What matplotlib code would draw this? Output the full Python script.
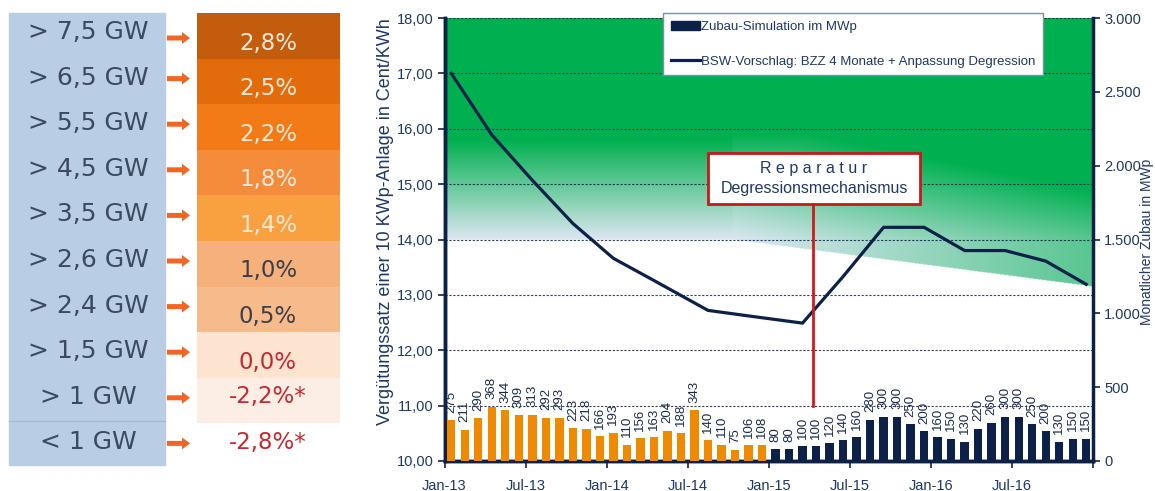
import matplotlib
matplotlib.use('Agg')
import matplotlib.pyplot as plt
import numpy as np
from matplotlib.patches import Rectangle, Patch
from matplotlib.lines import Line2D
from matplotlib.colors import to_rgb

# ---- left table ----
thresholds = ["> 7,5 GW", "> 6,5 GW", "> 5,5 GW", "> 4,5 GW", "> 3,5 GW",
              "> 2,6 GW", "> 2,4 GW", "> 1,5 GW", "> 1 GW", "< 1 GW"]
degression = ["2,8%", "2,5%", "2,2%", "1,8%", "1,4%",
              "1,0%", "0,5%", "0,0%", "-2,2%*", "-2,8%*"]

# ---- chart data ----
tick_labels = ["Jan-13", "Jul-13", "Jan-14", "Jul-14",
               "Jan-15", "Jul-15", "Jan-16", "Jul-16"]
zubau_ist = [275, 211, 290, 368, 344, 309, 313, 292, 293, 223, 218, 166,
             193, 110, 156, 163, 204, 188, 343, 140, 110, 75, 106, 108]
zubau_sim = [80, 80, 100, 100, 120, 140, 160, 280, 300, 300, 250, 200,
             160, 150, 130, 220, 260, 300, 300, 250, 200, 130, 150, 150]
line_month = [0, 3, 6, 9, 12, 15, 19, 22, 26, 29, 32, 35, 38, 41, 44, 47]
line_value = [17.00, 15.89, 15.07, 14.29, 13.66, 13.26, 12.72, 12.62,
              12.49, 13.33, 14.22, 14.22, 13.80, 13.80, 13.61, 13.19]

# styles
navy = "#0d2148"
txt_navy = "#1f3864"
orange_bar = "#ef8a00"
cell_colors = ["#c45c0e", "#e26c0b", "#f27b17", "#f48c3c", "#f9a140",
               "#f5b07b", "#f7ba8b", "#fce4d1", "#fdeee5", "#ffffff"]
pct_colors = ["#fde9d6"] * 5 + ["#3a3f4a"] * 2 + ["#c42a2f"] * 3

W, H = 1155, 491
fig = plt.figure(figsize=(W / 100, H / 100), dpi=100)

# ---------- table (pixel coordinates) ----------
t = fig.add_axes([0, 0, 1, 1])
t.set_xlim(0, W)
t.set_ylim(H, 0)
t.axis('off')
t.add_patch(Rectangle((9, 13), 156, 452, color="#b9cde5", zorder=0))
t.plot([9, 165], [421, 421], color="#a5b9d3", lw=1)
row_h = 45.6
for i, (lab, pct) in enumerate(zip(thresholds, degression)):
    yc = 32 + row_h * i
    t.add_patch(Rectangle((197, 13 + row_h * i), 143, row_h + 0.5,
                          color=cell_colors[i], lw=0, zorder=0))
    t.text(88, yc, lab, ha='center', va='center', fontsize=18,
           color="#3b4a5e", family='DejaVu Sans')
    ty = yc + (11 if i < 8 else 0)
    t.text(268, ty, pct, ha='center', va='center', fontsize=16.5,
           color=pct_colors[i], family='DejaVu Sans')
    t.arrow(167, yc + (6 if i == 0 else 1), 23, 0, width=5, head_width=12,
            head_length=8, length_includes_head=True, color="#f26522", lw=0)

# ---------- main chart ----------
x0, x1, ytop, ybot = 444.5, 1093, 18, 461
ax = fig.add_axes([x0 / W, 1 - ybot / H, (x1 - x0) / W, (ybot - ytop) / H])
n = len(zubau_ist) + len(zubau_sim)

# green background gradient with wedge on the right
green = np.array(to_rgb("#00b050"))
light = np.array(to_rgb("#dde7f2"))
xs = np.linspace(0, n, 600)
ys = np.linspace(13, 18, 500)
X, Y = np.meshgrid(xs, ys)
x_w = 21.3
s = np.clip((X - x_w) / (n - x_w), 0, 1)
edge = np.where(X > x_w, 14 - 0.85 * s, 14.0)
tl = np.clip((Y - 14) / 1.8, 0, 1)
tr = np.clip(0.6 * s + np.clip(Y - 14, 0, None) / 2.2, 0, 1)
tt = np.where(X > x_w, np.maximum(tr, np.clip((Y - 14.2) / 1.7, 0, 1)), tl)
img = np.zeros(X.shape + (4,))
img[..., :3] = light * (1 - tt[..., None]) + green * tt[..., None]
img[..., 3] = (Y >= edge).astype(float)
ax.imshow(img, extent=[0, n, 13, 18], origin='lower', aspect='auto',
          interpolation='bilinear', zorder=0)

ax.set_xlim(0, n)
ax.set_ylim(10, 18)
ax.set_yticks(np.arange(10, 18.5, 1))
ax.set_yticklabels([f"{v:.2f}".replace('.', ',') for v in np.arange(10, 18.5, 1)])
ax.yaxis.grid(True, color=navy, linestyle=(0, (2, 1.5)), lw=0.8, alpha=0.85)
ax.set_axisbelow(False)
ax.set_xticks(list(range(0, n + 1, 6)))
ax.set_xticklabels(tick_labels + [""])

ax.plot([m + 0.5 for m in line_month], line_value, color=navy, lw=2.3,
        zorder=5, solid_joinstyle='miter')

# annotation
ax.plot([27.3, 27.3], [14.65, 11.0], color="#d21a1a", lw=2, zorder=6)
ax.add_patch(Rectangle((19.5, 14.65), 15.7, 0.91, facecolor='white',
                       edgecolor="#c8181c", lw=2, zorder=7))
ax.text(27.35, 15.29, "R e p a r a t u r", ha='center', va='center',
        fontsize=11.5, color=txt_navy, family='Liberation Sans', zorder=8)
ax.text(27.35, 14.93, "Degressionsmechanismus", ha='center', va='center',
        fontsize=11.5, color=txt_navy, family='Liberation Sans', zorder=8)

ax2 = ax.twinx()
ax2.set_ylim(0, 3000)
ax2.set_yticks(range(0, 3001, 500))
ax2.set_yticklabels([f"{v:,}".replace(',', '.') for v in range(0, 3001, 500)])
pos = np.arange(n) + 0.5
vals = zubau_ist + zubau_sim
cols = [orange_bar] * len(zubau_ist) + [navy] * len(zubau_sim)
ax2.bar(pos, vals, width=0.62, color=cols, zorder=3)
for p, v in zip(pos, vals):
    ax2.text(p, v + 50, str(v), rotation=90, ha='center', va='bottom',
             fontsize=9.5, color="#1b2b4b", family='Liberation Sans')

for a in (ax, ax2):
    a.spines['top'].set_visible(False)
    for sp in ('left', 'bottom', 'right'):
        a.spines[sp].set_color(navy)
        a.spines[sp].set_linewidth(2.5)
ax.spines['right'].set_visible(False)
ax.tick_params(axis='y', direction='out', length=5, width=1.2, color=navy,
               labelcolor=txt_navy, labelsize=10.5, pad=3)
ax.tick_params(axis='x', direction='out', length=5, width=1.2, color=navy,
               labelcolor=txt_navy, labelsize=10.5, pad=8)
ax2.tick_params(axis='y', direction='out', length=5, width=1.2, color=navy,
                labelcolor=txt_navy, labelsize=10.5, pad=3)
for lbl in ax.get_xticklabels() + ax.get_yticklabels() + ax2.get_yticklabels():
    lbl.set_family('Liberation Sans')

handles = [Patch(facecolor=navy, edgecolor=navy),
           Line2D([], [], color=navy, lw=2.3)]
leg = ax2.legend(handles, ["Zubau-Simulation im MWp",
                           "BSW-Vorschlag: BZZ 4 Monate + Anpassung Degression"],
                 loc='upper left', bbox_to_anchor=(0.337, 0.846, 0.586, 0.166),
                 mode='expand', fancybox=False, framealpha=1, edgecolor="#7f8fa6",
                 prop={'family': 'Liberation Sans', 'size': 9.5},
                 handlelength=2.2, handletextpad=0.1, labelspacing=1.7,
                 borderaxespad=0, borderpad=0.6)
for tx in leg.get_texts():
    tx.set_color(txt_navy)
leg.set_zorder(10)

fig.text(385 / W, 1 - 222 / H, "Vergütungssatz einer 10 KWp-Anlage in Cent/KWh",
         rotation=90, ha='center', va='center', fontsize=13, color=txt_navy,
         family='Liberation Sans')
fig.text(1147 / W, 1 - 242 / H, "Monatlicher Zubau in MWp", rotation=90,
         ha='center', va='center', fontsize=10, color=txt_navy,
         family='Liberation Sans')

fig.savefig("out.png", dpi=100)
